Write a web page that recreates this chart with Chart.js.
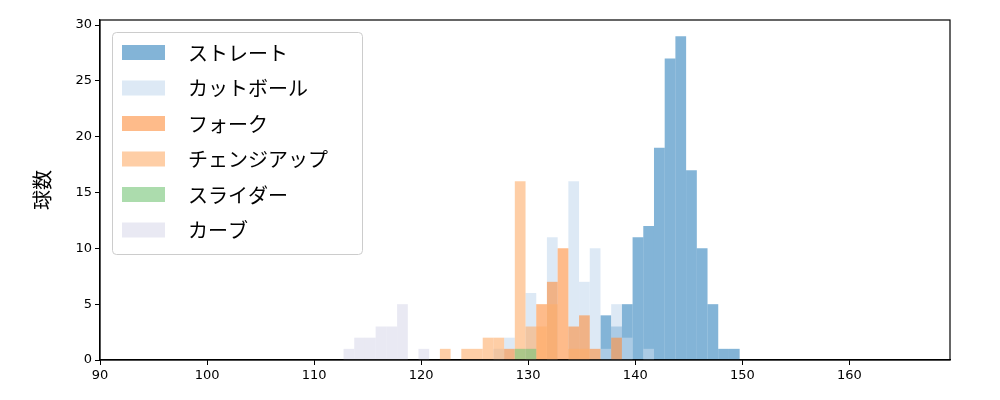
<!DOCTYPE html>
<html><head><meta charset="utf-8">
<script src="https://cdn.jsdelivr.net/npm/chart.js@4"></script>
<style>body{margin:0;background:#fff}#w{width:1000px;height:400px}</style>
</head><body><div id="w"><canvas id="c"></canvas></div>
<script>
const bins = [];
for (let n = 112; n <= 150; n++) bins.push(n);
const labels = ["ストレート","カットボール","フォーク","チェンジアップ","スライダー","カーブ"];
const straight = {137:4,138:3,139:5,140:11,141:12,142:19,143:27,144:29,145:17,146:10,147:5,148:1,149:1};
const cutter = {127:1,128:2,130:6,132:11,134:16,135:7,136:10,137:1,138:5,139:2,141:1};
const fork = {128:1,131:5,132:7,133:10,134:3,135:4,136:1,138:2};
const changeup = {122:1,124:1,125:1,126:2,127:2,129:16,130:3,131:3,132:5,134:1,135:1};
const slider = {129:1,130:1};
const curve = {113:1,114:2,115:2,116:3,117:3,118:5,120:1};
const series = [straight,cutter,fork,changeup,slider,curve];
const colors = ["rgba(49,130,189,0.6)","rgba(198,219,239,0.6)","rgba(253,141,60,0.6)","rgba(253,174,107,0.6)","rgba(116,196,118,0.6)","rgba(218,218,235,0.6)"];
const F = "'Noto Sans CJK JP','DejaVu Sans',sans-serif";
const FT = "'DejaVu Sans',sans-serif";
const datasets = series.map((s,i)=>({label:labels[i],data:bins.filter(n=>s[n]).map(n=>({x:n+0.25,y:s[n]})),backgroundColor:colors[i],borderWidth:0,borderSkipped:false,inflateAmount:0,grouped:false,barPercentage:1,categoryPercentage:1,barThickness:10.72,order:6-i}));
const legendPlugin = {id:'lg',afterDraw(ch){const c=ch.ctx;const a=ch.chartArea;const x0=a.left+12,y0=a.top+12;c.save();
c.fillStyle='rgba(255,255,255,0.8)';c.strokeStyle='#ccc';c.lineWidth=1;c.beginPath();c.roundRect(x0+0.5,y0+0.5,250,222,4);c.fill();c.stroke();
c.font="20px "+F;c.textBaseline='middle';
labels.forEach((l,i)=>{const y=y0+20+i*35.5;c.fillStyle=colors[i];c.fillRect(x0+10,y-7,43,15);c.fillStyle='#000';c.fillText(l,x0+76,y+1);});
c.strokeStyle='#000';c.lineWidth=1.2;c.strokeRect(a.left,a.top,a.right-a.left,a.bottom-a.top);c.restore();}};
new Chart(document.getElementById('c'),{type:'bar',data:{datasets},plugins:[legendPlugin],
options:{responsive:true,maintainAspectRatio:false,animation:false,layout:{padding:{top:20,right:50,left:30,bottom:0}},
plugins:{legend:{display:false},tooltip:{enabled:false}},
scales:{x:{type:'linear',offset:false,min:90,max:169.4,afterFit(s){s.height=40;},afterBuildTicks(s){s.ticks=[90,100,110,120,130,140,150,160].map(v=>({value:v}));},
grid:{display:true,offset:false,drawOnChartArea:false,drawTicks:true,tickLength:5,color:'#000'},border:{color:'#000',width:1.2},ticks:{color:'#000',font:{size:13,family:FT},maxRotation:0,padding:3}},
y:{min:0,max:30.45,afterFit(s){s.width=70;},afterBuildTicks(s){s.ticks=[0,5,10,15,20,25,30].map(v=>({value:v}));},grid:{display:true,drawOnChartArea:false,tickLength:5,color:'#000'},border:{color:'#000',width:1.2},
ticks:{color:'#000',font:{size:13,family:FT},padding:3},title:{display:true,text:'球数',color:'#000',font:{size:20,family:F},padding:0}}}}});
</script></body></html>
